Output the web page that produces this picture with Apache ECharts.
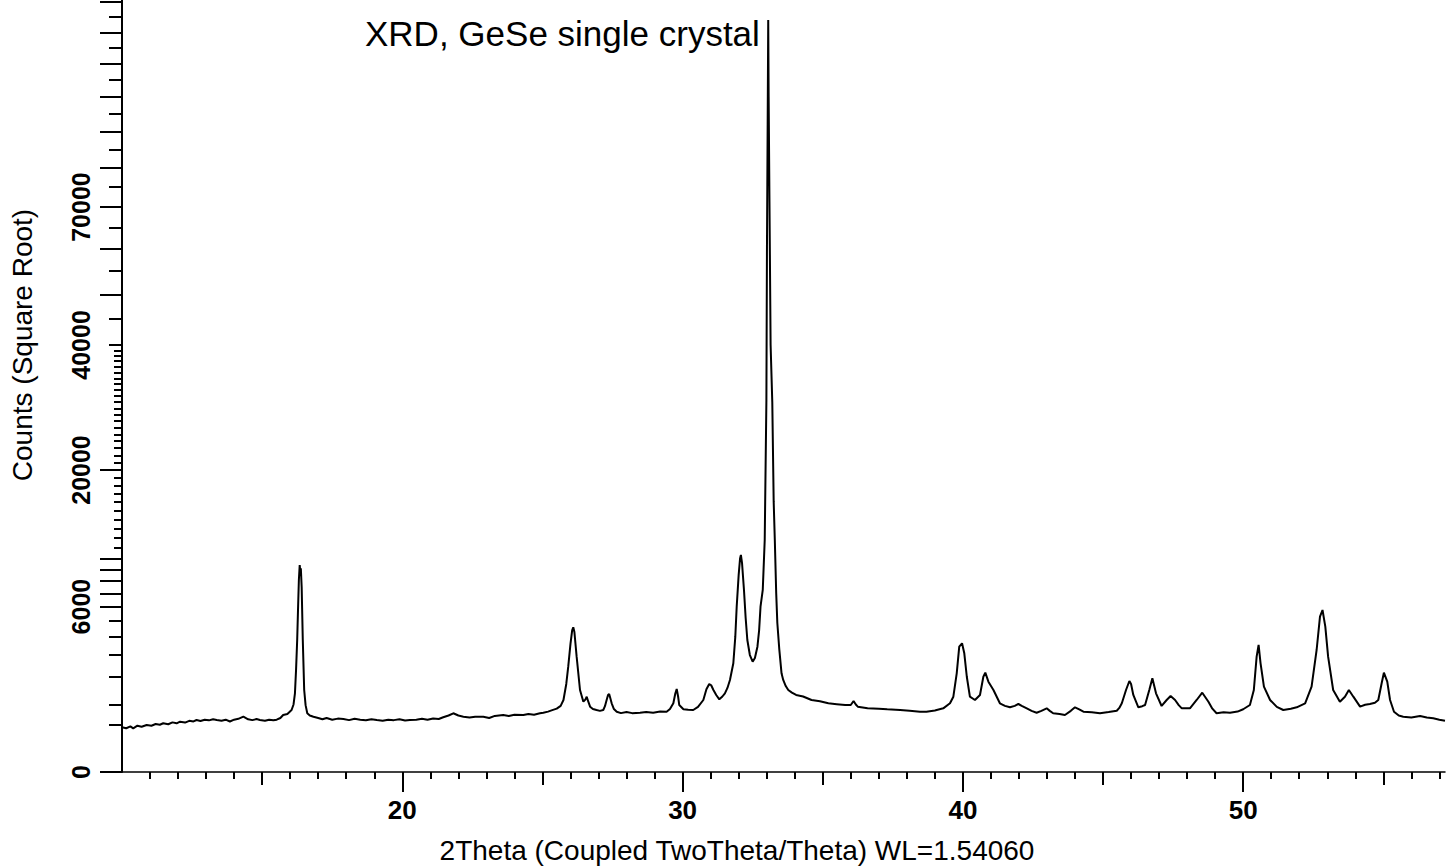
<!DOCTYPE html>
<html>
<head>
<meta charset="utf-8">
<script src="https://cdn.jsdelivr.net/npm/echarts@6/dist/echarts.min.js"></script>
<style>
html,body{margin:0;padding:0;background:#fff;}
#chart{width:1452px;height:867px;}
</style>
</head>
<body>
<div id="chart"></div>
<script>
// ---- data (2Theta in degrees, intensity in counts) ----
const twoTheta = [
  10.00,10.15,10.30,10.40,10.55,10.70,10.88,11.05,11.20,11.35,11.47,11.65,11.80,11.95,12.07,12.25,12.40,12.55,12.66,12.80,
  12.95,13.10,13.25,13.38,13.55,13.70,13.85,14.00,14.15,14.33,14.50,14.65,14.80,14.92,15.10,15.25,15.40,15.52,15.65,15.75,
  15.90,16.05,16.12,16.17,16.21,16.25,16.28,16.31,16.34,16.36,16.38,16.41,16.45,16.50,16.55,16.61,16.70,16.83,17.00,17.15,
  17.30,17.50,17.70,17.90,18.10,18.30,18.50,18.70,18.90,19.09,19.30,19.50,19.70,19.90,20.10,20.27,20.50,20.70,20.90,21.10,
  21.30,21.46,21.65,21.82,22.00,22.18,22.40,22.60,22.89,23.10,23.30,23.60,23.80,24.00,24.32,24.50,24.70,24.91,25.03,25.20,
  25.35,25.51,25.65,25.75,25.85,25.92,26.00,26.06,26.10,26.14,26.22,26.34,26.46,26.53,26.58,26.63,26.70,26.80,26.93,27.05,
  27.17,27.23,27.29,27.34,27.38,27.42,27.47,27.55,27.65,27.80,28.00,28.20,28.48,28.70,28.95,29.20,29.43,29.55,29.67,29.74,
  29.79,29.84,29.88,30.03,30.20,30.38,30.55,30.74,30.85,30.95,31.02,31.10,31.20,31.31,31.42,31.51,31.60,31.69,31.81,31.88,
  31.93,32.00,32.05,32.08,32.12,32.19,32.25,32.31,32.40,32.50,32.58,32.67,32.73,32.78,32.86,32.93,32.99,33.01,33.035,33.055,
  33.07,33.095,33.14,33.20,33.25,33.29,33.34,33.38,33.45,33.53,33.59,33.68,33.77,33.90,34.05,34.30,34.60,34.90,35.20,35.50,
  35.80,36.00,36.10,36.18,36.25,36.60,37.00,37.30,37.76,38.10,38.47,38.70,39.00,39.30,39.54,39.66,39.78,39.87,39.97,40.05,
  40.14,40.25,40.43,40.61,40.73,40.80,40.91,41.09,41.32,41.50,41.68,41.85,41.98,42.10,42.28,42.45,42.63,42.80,42.99,43.10,
  43.22,43.45,43.64,43.85,44.00,44.15,44.30,44.60,44.89,45.20,45.49,45.58,45.67,45.82,45.94,46.00,46.08,46.26,46.40,46.50,
  46.65,46.76,46.89,47.09,47.27,47.41,47.57,47.70,47.81,48.10,48.34,48.54,48.76,48.90,49.05,49.30,49.53,49.80,50.00,50.24,
  50.38,50.48,50.55,50.62,50.74,50.96,51.20,51.43,51.70,51.91,52.21,52.44,52.62,52.74,52.83,52.93,53.03,53.21,53.45,53.63,
  53.77,53.93,54.17,54.35,54.52,54.70,54.82,54.94,55.02,55.14,55.24,55.38,55.55,55.71,56.00,56.31,56.55,56.78,57.00,57.20
];
const counts = [
  440,420,455,419,470,450,485,470,505,490,521,500,540,520,555,535,575,560,593,570,
  600,585,610,593,575,600,560,600,620,671,610,590,615,593,575,600,585,600,640,713,
  740,843,1000,1358,2300,3823,5800,8085,9400,8800,9100,7500,3823,1475,980,756,700,671,640,610,
  640,600,625,616,590,620,600,585,610,593,575,600,590,610,580,593,600,620,600,630,
  615,656,700,756,700,671,650,670,671,640,690,713,690,720,713,740,720,756,770,800,
  840,880,960,1137,1700,2433,3600,4400,4593,4300,2915,1475,1084,1150,1244,1100,936,870,843,820,
  843,950,1137,1300,1335,1200,1035,870,797,760,790,760,771,790,770,800,797,870,1035,1350,
  1511,1250,985,863,850,843,930,1137,1500,1699,1650,1475,1300,1159,1250,1358,1550,1857,2592,4000,
  5993,8500,10000,10330,9600,7267,5200,3823,3000,2670,2850,3443,4400,5993,7267,11810,30360,60500,92000,124050,
  100000,75000,40000,30000,16000,11810,7000,4870,3300,2137,1857,1620,1475,1380,1301,1250,1137,1100,1035,1010,
  985,985,1106,1000,936,889,880,863,843,824,797,797,830,889,1035,1244,2137,3443,3632,3090,
  1990,1244,1137,1301,1990,2163,1789,1475,1035,960,918,960,1014,960,889,820,771,820,889,820,
  756,740,713,820,918,860,797,780,756,790,824,900,1035,1475,1816,1700,1301,918,950,985,
  1475,1926,1358,956,1137,1267,1137,980,889,889,1137,1379,1084,880,756,780,771,800,863,985,
  1475,2915,3539,2592,1596,1137,930,843,880,918,1035,1596,3265,5288,5757,4632,2915,1475,1084,1244,
  1475,1244,936,990,1014,1050,1137,1726,2163,1789,1137,797,700,671,650,688,650,633,600,577
];

// ---- axis ticks / labels ----
const xLabelValues = [20, 30, 40, 50];
const xMidTicks = [15, 25, 35, 45, 55];
const xMinorTicks = [11,12,13,14,16,17,18,19,21,22,23,24,26,27,28,29,31,32,33,34,36,37,38,39,41,42,43,44,46,47,48,49,51,52,53,54,56,57];
const yLabelValues = [0, 6000, 20000, 40000, 70000];
const yLongTicks = [0, 6000, 7000, 8000, 9000, 10000, 20000, 50000, 60000, 70000, 80000, 90000, 100000, 110000, 120000, 130000];
const yMidTicks = [500, 1000, 2000, 3000, 4000, 5000, 40000, 45000, 55000, 65000, 75000, 85000, 95000, 105000, 115000, 125000];
const yShortTicks = [11000,12000,13000,14000,15000,16000,17000,18000,19000,
  21000,22000,23000,24000,25000,26000,27000,28000,29000,30000,31000,32000,33000,34000,35000,36000,37000,38000,39000];

const titleText = 'XRD, GeSe single crystal';
const xName = '2Theta (Coupled TwoTheta/Theta) WL=1.54060';
const yName = 'Counts (Square Root)';

const X_MIN = 10, X_MAX = 57.2;
const Y_MAX = 130700;           // top of the plot in counts
const sq = Math.sqrt;           // square-root intensity scale
const FONT = "'Liberation Sans', Arial, sans-serif";

function xAxisCfg(ticks, len, showLine, labels) {
  return {
    type: 'value', min: X_MIN, max: X_MAX, position: 'bottom',
    axisLine: { show: showLine, onZero: false, lineStyle: { color: '#000', width: 1.5 } },
    axisTick: { show: true, customValues: ticks, length: len, lineStyle: { color: '#000', width: 2 } },
    axisLabel: labels ? {
      show: true, customValues: labels, margin: 25, color: '#000',
      fontFamily: FONT, fontSize: 26, fontWeight: 'bold',
      formatter: v => String(Math.round(v))
    } : { show: false },
    splitLine: { show: false }
  };
}
function yAxisCfg(ticks, len, showLine, labels) {
  return {
    type: 'value', min: 0, max: sq(Y_MAX), position: 'left',
    axisLine: { show: showLine, onZero: false, lineStyle: { color: '#000', width: 2 } },
    axisTick: { show: true, customValues: ticks.map(sq), length: len, lineStyle: { color: '#000', width: 2 } },
    axisLabel: labels ? {
      show: true, customValues: labels.map(sq), rotate: 90, margin: 29, color: '#000',
      fontFamily: FONT, fontSize: 25, fontWeight: 'bold',
      formatter: v => String(Math.round(v * v))
    } : { show: false },
    splitLine: { show: false }
  };
}

const chart = echarts.init(document.getElementById('chart'), null, { renderer: 'svg' });
chart.setOption({
  animation: false,
  backgroundColor: '#fff',
  grid: { left: 122, right: 7, top: 0, bottom: 95, containLabel: false, outerBoundsMode: 'none' },
  xAxis: [
    xAxisCfg(xLabelValues, 20, true, xLabelValues),
    xAxisCfg(xMidTicks, 13, false, null),
    xAxisCfg(xMinorTicks, 7, false, null)
  ],
  yAxis: [
    yAxisCfg(yLongTicks, 22, true, yLabelValues),
    yAxisCfg(yMidTicks, 13, false, null),
    yAxisCfg(yShortTicks, 8, false, null)
  ],
  graphic: [
    { type: 'text', x: 365, y: 33, silent: true,
      style: { text: titleText, font: "35px " + FONT, fill: '#000', align: 'left', verticalAlign: 'middle' } },
    { type: 'text', x: 22, y: 345, rotation: Math.PI / 2, silent: true,
      style: { text: yName, font: "28px " + FONT, fill: '#000', align: 'center', verticalAlign: 'middle' } },
    { type: 'text', x: 737, y: 850, silent: true,
      style: { text: xName, font: "28px " + FONT, fill: '#000', align: 'center', verticalAlign: 'middle' } }
  ],
  series: [{
    type: 'line',
    xAxisIndex: 0, yAxisIndex: 0,
    data: twoTheta.map((t, i) => [t, sq(counts[i])]),
    showSymbol: false, symbol: 'none',
    lineStyle: { color: '#000', width: 2 },
    clip: true
  }]
});
</script>
</body>
</html>
